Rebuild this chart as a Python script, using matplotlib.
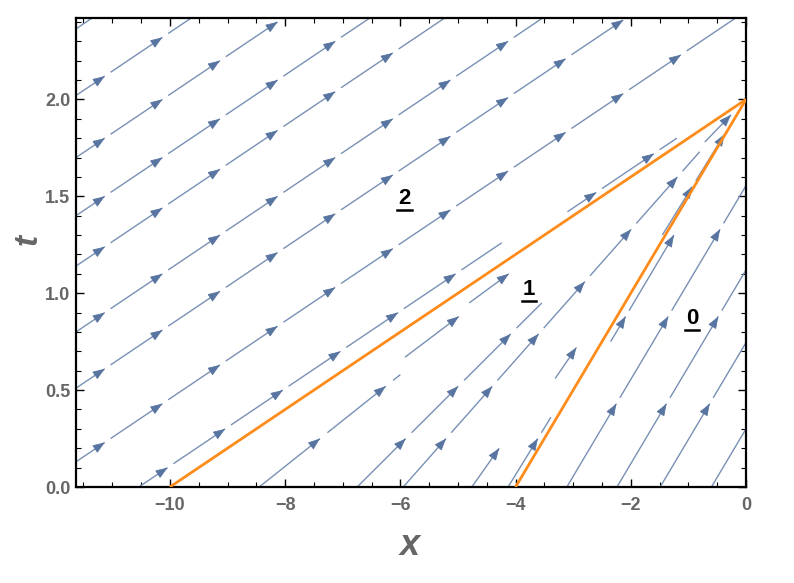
import numpy as np
import matplotlib
matplotlib.use("Agg")
import matplotlib.pyplot as plt
from matplotlib.ticker import MultipleLocator, FormatStrFormatter

# ---------------- data ----------------
x_range = [-11.63, 0.0]
t_range = [0.0, 2.42]
boundary_x0 = [-10.0, -4.0]      # feet of the two orange boundary lines (t=0)
focus = (0.0, 2.0)               # where both boundaries meet
speed_region2 = 5.0              # dx/dt in region 2
speed_region0 = 2.0              # dx/dt in region 0

# region 2 stream lines: x = a + 5 t   (intercept a, visible t-window)
region2_a    = [-23.45, -21.73, -20.13, -18.63, -17.33, -15.63, -14.18, -12.28, -10.54, -10.20]
region2_tmin = [0, 0, 0, 0, 0, 0, 0, 0, 0.0, 1.42]
region2_tmax = [9, 9, 9, 9, 9, 9, 9, 9, 1.26, 1.80]
# region 0 stream lines: x = b + 2 t
region0_b    = [-3.85, -3.11, -2.24, -1.49, -0.60]
region0_tmin = [0.75, 0, 0, 0, 0]
region0_tmax = [1.30, 9, 9, 9, 9]
# region 1 (fan) stream lines: rays through the focus, x = c (1 - t/2)
region1_c    = [-8.45, -8.90, -9.15, -6.75, -5.95, -6.50, -4.76, -4.13, -4.60, -4.15]
region1_tmin = [0.00, 0.67, 0.95, 0.00, 0.00, 1.78, 0.00, 0.00, 0.56, 1.30]
region1_tmax = [0.58, 0.88, 1.10, 0.95, 1.73, 1.92, 0.20, 0.36, 0.72, 1.85]

region_labels = ["2", "1", "0"]
label_x = [-5.93, -3.77, -0.94]
label_t = [1.49, 1.02, 0.87]

line_color = "#7890b5"
head_color = "#5874a0"
orange = "#ff8c1a"

fig = plt.figure(figsize=(7.94, 5.83), dpi=100)
ax = fig.add_axes([76/794, 1-487/583, (746-76)/794, (487-18)/583])
ax.set_xlim(*x_range)
ax.set_ylim(*t_range)


def draw_stream(xfun, t0, t1, arrow_ts, gap):
    """Draw one stream segment x = xfun(t), t in [t0, t1] with arrowheads."""
    arrow_ts = [t for t in arrow_ts if t0 < t <= t1 + 1e-9]
    cuts = [t0]
    for ta in arrow_ts:
        cuts += [ta, min(ta + gap, t1)]
    cuts.append(t1)
    for i in range(0, len(cuts), 2):
        a, b = cuts[i], cuts[i + 1]
        if b > a:
            ax.plot([xfun(a), xfun(b)], [a, b], color=line_color, lw=1.0,
                    solid_capstyle='butt', zorder=2)
    for ta in arrow_ts:
        tb = ta - 0.01
        ax.annotate('', xy=(xfun(ta), ta), xytext=(xfun(tb), tb),
                    arrowprops=dict(arrowstyle='-|>,head_length=0.75,head_width=0.28',
                                    color=head_color, lw=0.6,
                                    shrinkA=0, shrinkB=0, mutation_scale=10),
                    zorder=3)


# region 2
for a, tlo, thi in zip(region2_a, region2_tmin, region2_tmax):
    f = (lambda a: lambda t: a + speed_region2 * t)(a)
    t0 = max(tlo, (x_range[0] - a) / speed_region2, t_range[0])
    t1 = min(thi, (x_range[1] - a) / speed_region2, t_range[1])
    if t1 <= t0:
        continue
    arrows = list(np.arange(t0 + 0.1, t1 + 1e-9, 0.2))
    draw_stream(f, t0, t1, arrows, 0.02)

# region 0
for b, tlo, thi in zip(region0_b, region0_tmin, region0_tmax):
    f = (lambda b: lambda t: b + speed_region0 * t)(b)
    t0 = max(tlo, 0.0)
    t1 = min(thi, (x_range[1] - b) / speed_region0, t_range[1])
    arrows = list(np.arange(0.43, t1 + 1e-9, 0.45))
    if thi < 9:
        arrows = [t for t in arrows if t < t1 - 0.1] + [t1]
    draw_stream(f, t0, t1, arrows, 0.03)

# region 1
for c, tlo, thi in zip(region1_c, region1_tmin, region1_tmax):
    f = (lambda c: lambda t: c * (1 - t / focus[1]))(c)
    if thi - tlo < 0.3:
        arrows = [thi]
    else:
        arrows = list(np.arange(tlo + 0.25, thi + 1e-9, 0.27))
    draw_stream(f, tlo, thi, arrows, 0.03)

for x0 in boundary_x0:
    ax.plot([x0, focus[0]], [0, focus[1]], color=orange, lw=2.0, zorder=5,
            solid_capstyle='butt')

ax.xaxis.set_major_locator(MultipleLocator(2))
ax.xaxis.set_minor_locator(MultipleLocator(0.5))
ax.yaxis.set_major_locator(MultipleLocator(0.5))
ax.yaxis.set_minor_locator(MultipleLocator(0.1))
ax.yaxis.set_major_formatter(FormatStrFormatter('%.1f'))
ax.tick_params(which='both', direction='in', top=True, right=True, color='black')
ax.tick_params(which='major', length=6, width=1.0)
ax.tick_params(which='minor', length=3.5, width=0.8)
for lab in ax.get_xticklabels() + ax.get_yticklabels():
    lab.set_fontfamily('Liberation Sans')
    lab.set_fontweight('bold')
    lab.set_fontsize(13)
    lab.set_color('#666666')
ax.tick_params(axis='x', pad=7)
ax.tick_params(axis='y', pad=4)
for s in ax.spines.values():
    s.set_linewidth(1.6)

ax.set_xlabel('x', fontsize=26, fontweight='bold', fontstyle='italic',
              color='#666666', family='Liberation Sans')
ax.set_ylabel('t', fontsize=24, fontweight='bold', fontstyle='italic',
              color='#666666', family='Liberation Sans', rotation=90)
ax.xaxis.label.set_verticalalignment('center')
ax.yaxis.label.set_verticalalignment('center')
ax.xaxis.set_label_coords(0.4985, -0.124)
ax.yaxis.set_label_coords(-0.072, 0.527)

texts = []
for s, lx, lt in zip(region_labels, label_x, label_t):
    texts.append(ax.text(lx, lt, s, fontsize=16, fontweight='bold',
                         family='Liberation Sans', color='black',
                         ha='center', va='center', zorder=6))

fig.canvas.draw()
r = fig.canvas.get_renderer()
for tx in texts:
    bb = tx.get_window_extent(r)
    y = bb.y0 - 1
    fig.add_artist(plt.Line2D([(bb.x0 - 1) / fig.bbox.width, (bb.x1 + 1) / fig.bbox.width],
                              [y / fig.bbox.height, y / fig.bbox.height],
                              color='black', lw=1.8))

fig.savefig('out.png', dpi=100)
